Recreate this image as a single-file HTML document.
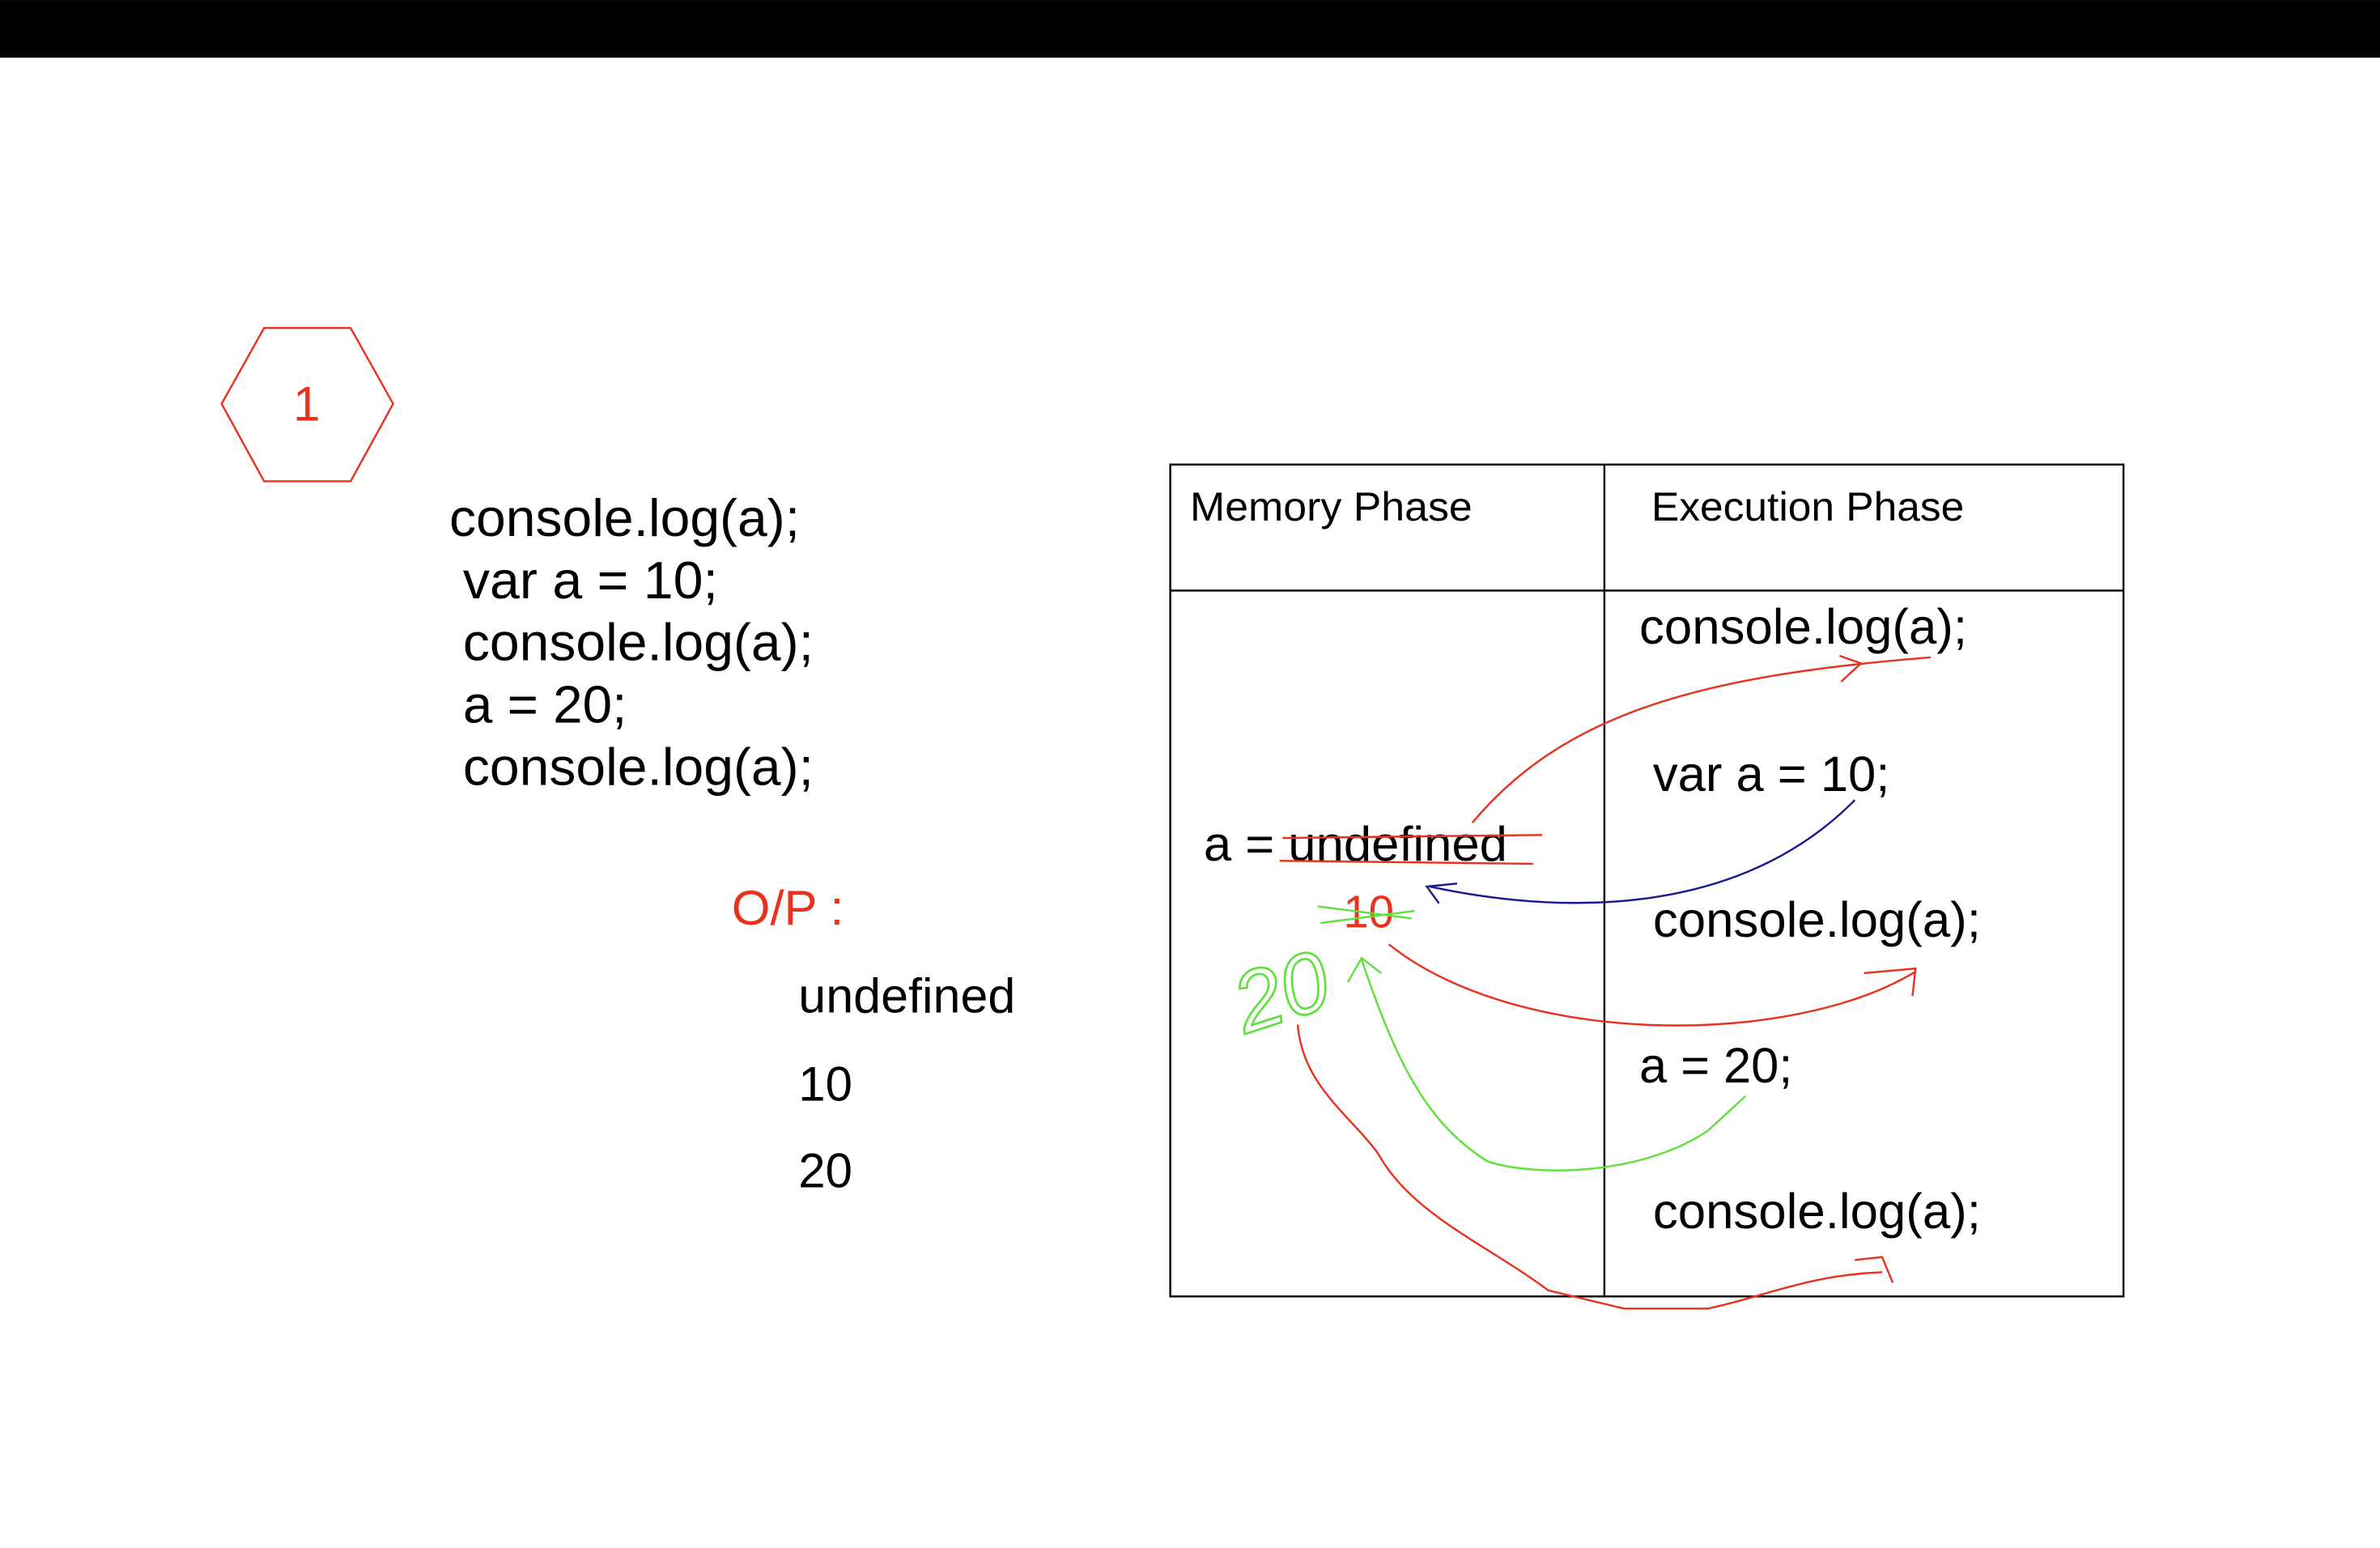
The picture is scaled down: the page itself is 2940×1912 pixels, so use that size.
<!DOCTYPE html>
<html><head><meta charset="utf-8"><style>
html,body{margin:0;padding:0;background:#fff;}
svg{display:block;}
text{font-family:"Liberation Sans",sans-serif;}
</style></head><body>
<svg width="2940" height="1912" viewBox="0 0 1568 1019.7" xmlns="http://www.w3.org/2000/svg">
<rect x="0" y="0" width="1568" height="38" fill="#000"/>
<polygon points="174,216 231,216 259,266 231,317 174,317 146,266" fill="none" stroke="#e8321e" stroke-width="1.3"/>
<text x="202" y="277" font-size="32" fill="#e8321e" text-anchor="middle">1</text>
<g font-size="34.5" fill="#000">
<text x="296" y="353" textLength="231" lengthAdjust="spacingAndGlyphs">console.log(a);</text>
<text x="305" y="394" textLength="168" lengthAdjust="spacingAndGlyphs">var a = 10;</text>
<text x="305" y="435" textLength="231" lengthAdjust="spacingAndGlyphs">console.log(a);</text>
<text x="305" y="476" textLength="108" lengthAdjust="spacingAndGlyphs">a = 20;</text>
<text x="305" y="517" textLength="231" lengthAdjust="spacingAndGlyphs">console.log(a);</text>
</g>
<text x="482" y="609" font-size="32" fill="#e8321e" textLength="74" lengthAdjust="spacingAndGlyphs">O/P :</text>
<g font-size="32" fill="#000">
<text x="526" y="667" textLength="143" lengthAdjust="spacingAndGlyphs">undefined</text>
<text x="526" y="725">10</text>
<text x="526" y="782">20</text>
</g>
<rect x="771" y="306" width="628" height="548" fill="none" stroke="#000" stroke-width="1.3"/>
<line x1="1057" y1="306" x2="1057" y2="854" stroke="#000" stroke-width="1.3"/>
<line x1="771" y1="389" x2="1399" y2="389" stroke="#000" stroke-width="1.3"/>
<text x="784" y="343" font-size="26.5" fill="#000" textLength="186" lengthAdjust="spacingAndGlyphs">Memory Phase</text>
<text x="1088" y="343" font-size="26.5" fill="#000" textLength="206" lengthAdjust="spacingAndGlyphs">Execution Phase</text>
<g font-size="32.5" fill="#000">
<text x="1080" y="424" textLength="216" lengthAdjust="spacingAndGlyphs">console.log(a);</text>
<text x="1089" y="521" textLength="156" lengthAdjust="spacingAndGlyphs">var a = 10;</text>
<text x="1089" y="617" textLength="216" lengthAdjust="spacingAndGlyphs">console.log(a);</text>
<text x="1080" y="713" textLength="101" lengthAdjust="spacingAndGlyphs">a = 20;</text>
<text x="1089" y="809" textLength="216" lengthAdjust="spacingAndGlyphs">console.log(a);</text>
</g>
<text x="793" y="567" font-size="32" fill="#000" textLength="200" lengthAdjust="spacingAndGlyphs">a = undefined</text>
<text x="885" y="611" font-size="30" fill="#e8321e">10</text>
<g fill="none" stroke="#e8321e" stroke-width="1.3">
<line x1="845" y1="552" x2="1016" y2="550"/>
<line x1="843" y1="567" x2="1010" y2="569"/>
<path d="M970,542 C1030,470 1120,445 1272,433"/>
<polyline points="1212,432 1226,437 1213,449"/>
<path d="M915,622 C1000,690 1180,690 1262,640"/>
<polyline points="1228,641 1262,638 1260,656"/>
<path d="M855,675 C858,715 890,735 908,760 C930,800 980,820 1020,850 L1070,862 L1125,862 C1160,855 1190,840 1240,838"/>
<polyline points="1222,830 1240,828 1247,845"/>
</g>
<g fill="none" stroke="#1a1a8c" stroke-width="1.3">
<path d="M1222,527 C1150,600 1040,605 942,584"/>
<polyline points="948,595 940,584 960,582"/>
</g>
<g fill="none" stroke="#5fe03c" stroke-width="1.3">
<line x1="868" y1="597" x2="930" y2="605"/>
<line x1="870" y1="608" x2="932" y2="600"/>
<path d="M1150,722 L1125,745 C1080,775 1010,775 980,765 C940,740 920,700 897,632"/>
<polyline points="888,647 897,631 910,641"/>
</g>
<text x="812" y="672" font-size="56" fill="none" stroke="#5fe03c" stroke-width="1.4" font-style="italic" transform="rotate(-18 845 650)">20</text>
</svg>
</body></html>
